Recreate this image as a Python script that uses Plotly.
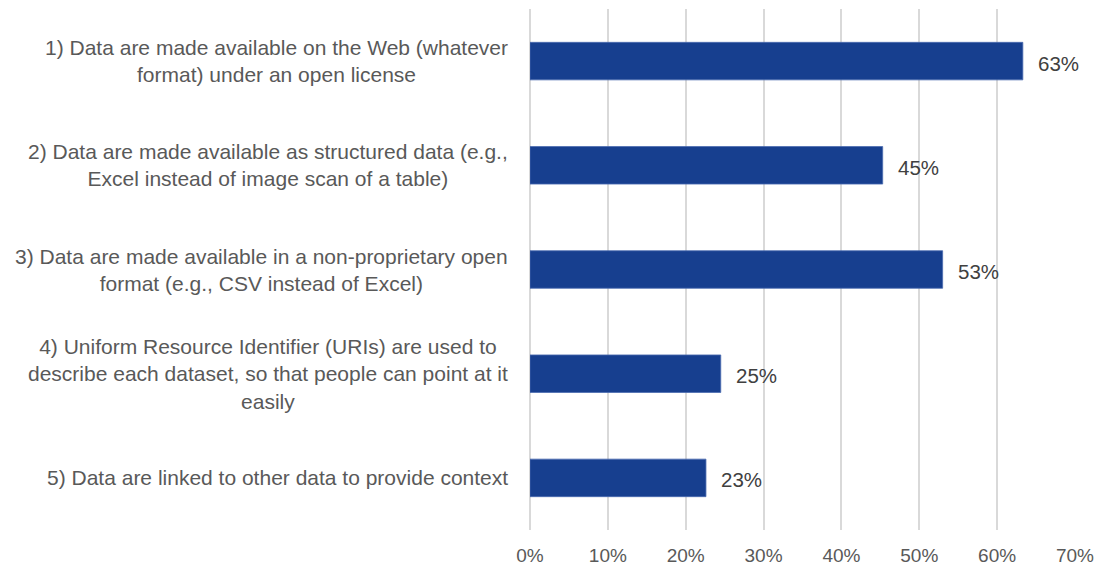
import plotly.graph_objects as go

categories = [
    "1) Data are made available on the Web (whatever<br>format) under an open license",
    "2) Data are made available as structured data (e.g.,<br>Excel instead of image scan of a table)",
    "3) Data are made available in a non-proprietary open<br>format (e.g., CSV instead of Excel)",
    "4) Uniform Resource Identifier (URIs) are used to<br>describe each dataset, so that people can point at it<br>easily",
    "5) Data are linked to other data to provide context",
]
values = [0.633, 0.453, 0.530, 0.245, 0.226]
value_labels = ["63%", "45%", "53%", "25%", "23%"]
tick_vals = [0, 0.1, 0.2, 0.3, 0.4, 0.5, 0.6, 0.7]
tick_text = ["0%", "10%", "20%", "30%", "40%", "50%", "60%", "70%"]

FONT = "Liberation Sans, Arial, sans-serif"

fig = go.Figure(go.Bar(
    x=values, y=categories, orientation="h",
    marker=dict(color="#173f8f", line=dict(color="#4a6bb0", width=0.8)),
    width=0.36,
    hoverinfo="skip",
))

annotations = []
for c in categories:
    annotations.append(dict(
        x=0, xref="paper", y=c, yref="y", text=c, showarrow=False,
        xanchor="right", xshift=-20, align="center",
        font=dict(family=FONT, size=21, color="#595959"),
    ))
for c, v, t in zip(categories, values, value_labels):
    annotations.append(dict(
        x=v, xref="x", y=c, yref="y", text=t, showarrow=False,
        xanchor="left", xshift=13, yshift=-2,
        font=dict(family=FONT, size=20.5, color="#404040"),
    ))

fig.update_layout(
    width=1100, height=567,
    margin=dict(l=530, r=25, t=9, b=37, autoexpand=False),
    paper_bgcolor="white", plot_bgcolor="white",
    showlegend=False,
    annotations=annotations,
    xaxis=dict(range=[0, 0.7], tickvals=tick_vals, ticktext=tick_text,
               showgrid=True, gridcolor="#d9d9d9", gridwidth=2,
               zeroline=True, zerolinecolor="#d9d9d9", zerolinewidth=2,
               showline=False, ticks="", ticklabelstandoff=12,
               tickfont=dict(family=FONT, size=19, color="#595959")),
    yaxis=dict(categoryorder="array", categoryarray=categories,
               autorange="reversed", showticklabels=False, showgrid=False,
               zeroline=False, showline=False, ticks=""),
)

fig.write_html("out.html", config={"displayModeBar": False},
               post_script="document.body.style.margin='0';")
